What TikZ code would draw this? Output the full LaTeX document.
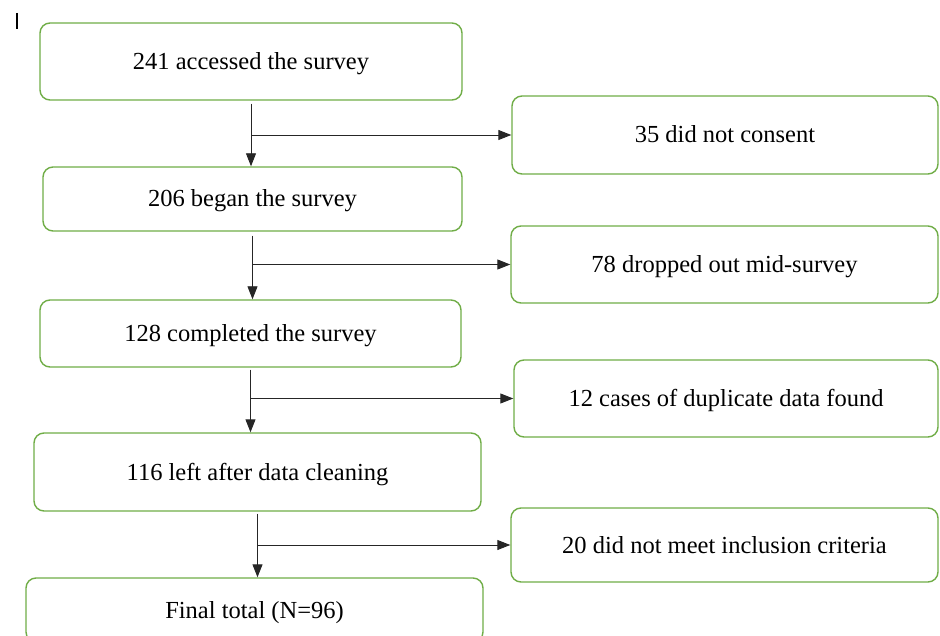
\documentclass[tikz,border=0pt]{standalone}
\usepackage{fontspec}
\setmainfont{Liberation Serif}
\usetikzlibrary{arrows.meta}
\definecolor{boxgreen}{HTML}{70AD47}

\tikzset{
    stagebox/.style={draw=boxgreen, line width=1.4pt, rounded corners=10pt, fill=white,
        font=\fontsize{24.5}{29}\selectfont, inner sep=0pt, text height=16pt, text depth=0pt},
    flowarrow/.style={draw=black!85, line width=0.9pt, -{Triangle[length=13pt,width=10pt]}}
}

\begin{document}
\begin{tikzpicture}[x=1pt, y=-1pt]
    \useasboundingbox (0,0) rectangle (940,636);
    \draw[line width=1.6pt] (17,13) -- (17,29);
    \node[stagebox, minimum width=422pt, minimum height=77pt] (accessed) at (251,61.5) {241 accessed the survey};
    \node[stagebox, minimum width=419pt, minimum height=64pt] (began) at (252.5,199) {206 began the survey};
    \node[stagebox, minimum width=421pt, minimum height=67pt] (completed) at (250.5,333.5) {128 completed the survey};
    \node[stagebox, minimum width=447pt, minimum height=78pt] (cleaned) at (257.5,472) {116 left after data cleaning};
    \node[stagebox, minimum width=457pt, minimum height=64pt] (final) at (254.5,610) {Final total (N=96)};
    \node[stagebox, minimum width=426pt, minimum height=78pt] (consent) at (725,135) {35 did not consent};
    \node[stagebox, minimum width=427pt, minimum height=77pt] (dropped) at (724.5,264.5) {78 dropped out mid-survey};
    \node[stagebox, minimum width=424pt, minimum height=77pt] (duplicate) at (726,398.5) {12 cases of duplicate data found};
    \node[stagebox, minimum width=427pt, minimum height=74pt] (criteria) at (724.5,545) {20 did not meet inclusion criteria};
    \draw[flowarrow] ([yshift=-3pt]accessed.south) -- (accessed.south |- began.north);
    \draw[flowarrow] (accessed.south |- consent.west) -- (consent.west);
    \draw[flowarrow] ([yshift=-4pt]began.south) -- (began.south |- completed.north);
    \draw[flowarrow] (began.south |- dropped.west) -- (dropped.west);
    \draw[flowarrow] ([yshift=-2pt]completed.south) -- (completed.south |- cleaned.north);
    \draw[flowarrow] (completed.south |- duplicate.west) -- (duplicate.west);
    \draw[flowarrow] ([yshift=-2pt]cleaned.south) -- (cleaned.south |- final.north);
    \draw[flowarrow] (cleaned.south |- criteria.west) -- (criteria.west);
\end{tikzpicture}
\end{document}
